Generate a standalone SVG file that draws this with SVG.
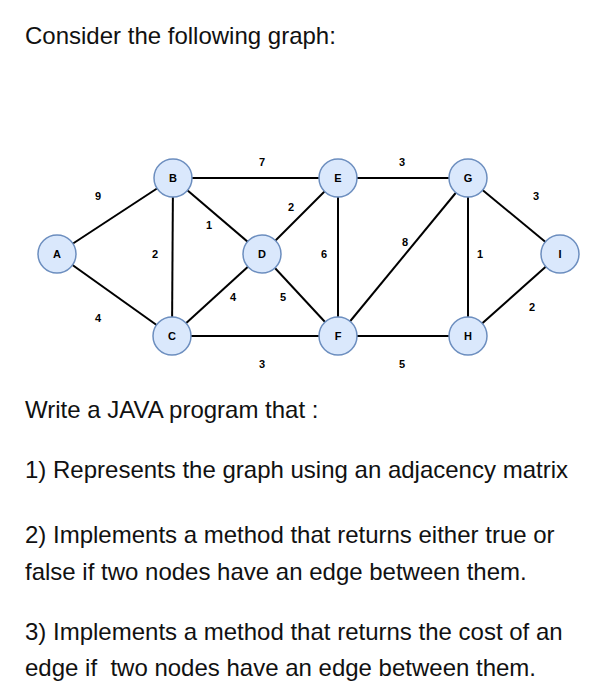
<svg xmlns="http://www.w3.org/2000/svg" width="606" height="700" viewBox="0 0 606 700">
<style>
.t{font-family:"Liberation Sans",Arial,sans-serif;font-size:24px;fill:#111;white-space:pre}
.n circle{fill:#dae8fc;stroke:#6c8ebf;stroke-width:1.5}
.n text,.w{font-family:"Liberation Sans",Arial,sans-serif;font-weight:bold;font-size:11px;fill:#000;text-anchor:middle;dominant-baseline:central}
#edges line{stroke:#000;stroke-width:2}
</style>
<rect width="606" height="700" fill="#fff"/>
<text class="t" x="25" y="44">Consider the following graph:</text>
<g id="edges">
<line x1="57" y1="254" x2="173" y2="178"/>
<line x1="57" y1="254" x2="172" y2="336"/>
<line x1="173" y1="178" x2="338" y2="178"/>
<line x1="338" y1="178" x2="468" y2="178"/>
<line x1="468" y1="178" x2="560" y2="254"/>
<line x1="173" y1="178" x2="172" y2="336"/>
<line x1="173" y1="178" x2="262" y2="254"/>
<line x1="262" y1="254" x2="338" y2="178"/>
<line x1="338" y1="178" x2="338" y2="336"/>
<line x1="338" y1="336" x2="468" y2="178"/>
<line x1="468" y1="178" x2="468" y2="336"/>
<line x1="172" y1="336" x2="262" y2="254"/>
<line x1="262" y1="254" x2="338" y2="336"/>
<line x1="172" y1="336" x2="338" y2="336"/>
<line x1="338" y1="336" x2="468" y2="336"/>
<line x1="468" y1="336" x2="560" y2="254"/>
<text class="w" x="98" y="196">9</text>
<text class="w" x="98" y="318">4</text>
<text class="w" x="262" y="162">7</text>
<text class="w" x="402" y="162">3</text>
<text class="w" x="536" y="196">3</text>
<text class="w" x="155" y="254">2</text>
<text class="w" x="209" y="225">1</text>
<text class="w" x="291" y="207">2</text>
<text class="w" x="324" y="254">6</text>
<text class="w" x="405" y="242">8</text>
<text class="w" x="480" y="254">1</text>
<text class="w" x="233" y="297">4</text>
<text class="w" x="283" y="297">5</text>
<text class="w" x="262" y="364">3</text>
<text class="w" x="402" y="364">5</text>
<text class="w" x="532" y="307">2</text>
</g>
<g id="A" class="n"><circle cx="57" cy="254" r="19"/><text x="57" y="254">A</text></g>
<g id="B" class="n"><circle cx="173" cy="178" r="19"/><text x="173" y="178">B</text></g>
<g id="C" class="n"><circle cx="172" cy="336" r="19"/><text x="172" y="336">C</text></g>
<g id="D" class="n"><circle cx="262" cy="254" r="19"/><text x="262" y="254">D</text></g>
<g id="E" class="n"><circle cx="338" cy="178" r="19"/><text x="338" y="178">E</text></g>
<g id="F" class="n"><circle cx="338" cy="336" r="19"/><text x="338" y="336">F</text></g>
<g id="G" class="n"><circle cx="468" cy="178" r="19"/><text x="468" y="178">G</text></g>
<g id="H" class="n"><circle cx="468" cy="336" r="19"/><text x="468" y="336">H</text></g>
<g id="I" class="n"><circle cx="560" cy="254" r="19"/><text x="560" y="254">I</text></g>
<text class="t" x="25" y="418">Write a JAVA program that :</text>
<text class="t" x="25" y="478">1) Represents the graph using an adjacency matrix</text>
<text class="t" x="25" y="543">2) Implements a method that returns either true or</text>
<text class="t" x="25" y="580">false if two nodes have an edge between them.</text>
<text class="t" x="25" y="640">3) Implements a method that returns the cost of an</text>
<text class="t" x="25" y="676">edge if  two nodes have an edge between them.</text>
</svg>
